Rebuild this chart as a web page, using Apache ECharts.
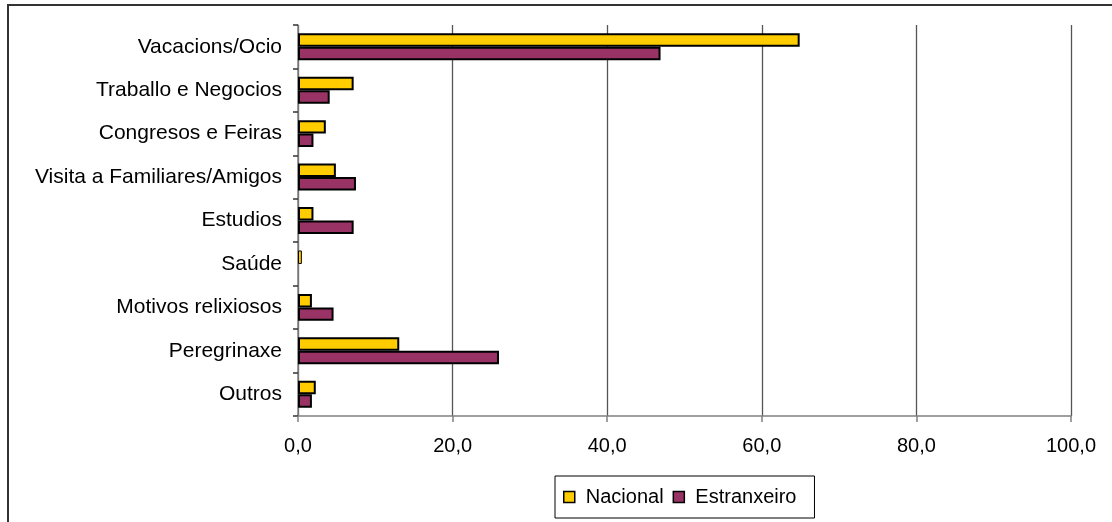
<!DOCTYPE html>
<html>
<head>
<meta charset="utf-8">
<script src="https://cdn.jsdelivr.net/npm/echarts@6/dist/echarts.min.js"></script>
<style>
  html, body { margin: 0; padding: 0; background: #ffffff; }
  #chart { width: 1112px; height: 522px; }
</style>
</head>
<body>
<div id="chart"></div>
<script>
// Motivo da viaxe (%)
var categories = [
  'Vacacions/Ocio',
  'Traballo e Negocios',
  'Congresos e Feiras',
  'Visita a Familiares/Amigos',
  'Estudios',
  'Saúde',
  'Motivos relixiosos',
  'Peregrinaxe',
  'Outros'
];
var nacional    = [64.9, 7.2, 3.6, 4.9, 2.0, 0.5, 1.8, 13.1, 2.3];
var estranxeiro = [46.9, 4.1, 2.0, 7.5, 7.2, 0.0, 4.6, 26.0, 1.8];
var seriesNames = ['Nacional', 'Estranxeiro'];
var xTickLabels = ['0,0', '20,0', '40,0', '60,0', '80,0', '100,0'];

var FONT = 'Liberation Sans, Arial, sans-serif';
var chart = echarts.init(document.getElementById('chart'), null, { renderer: 'canvas' });

// zero-length bars get no outline, very short ones a thinner one
function barData(values) {
  return values.map(function (v) {
    if (v === 0) return { value: v, itemStyle: { borderWidth: 0 } };
    if (v < 1) return { value: v, itemStyle: { borderWidth: 1 } };
    return v;
  });
}

chart.setOption({
  backgroundColor: '#ffffff',
  animation: false,
  textStyle: { fontFamily: FONT },
  graphic: [{
    type: 'rect',
    shape: { x: 8, y: 5, width: 1200, height: 600 },
    style: { fill: 'none', stroke: '#333333', lineWidth: 2 },
    silent: true,
    z: -1
  }],
  legend: {
    data: seriesNames,
    left: 555,
    top: 476,
    orient: 'horizontal',
    icon: 'rect',
    padding: [11, 18, 11, 8],
    itemWidth: 11,
    itemHeight: 11,
    itemGap: 9,
    borderColor: '#000000',
    borderWidth: 1,
    itemStyle: { borderColor: '#000000', borderWidth: 1.5 },
    textStyle: { fontFamily: FONT, fontSize: 20, color: '#000000', padding: [0, 0, 0, 6] }
  },
  grid: { left: 298, right: 41, top: 25, bottom: 106, containLabel: false },
  xAxis: {
    type: 'value',
    min: 0,
    max: 100,
    interval: 20,
    axisLine: { show: true, lineStyle: { color: '#808080', width: 1.5 } },
    axisTick: { show: true, length: 6, lineStyle: { color: '#808080', width: 1.5 } },
    splitLine: { show: true, lineStyle: { color: '#555555', width: 1.3 } },
    axisLabel: {
      margin: 20,
      fontFamily: FONT,
      fontSize: 20,
      color: '#000000',
      formatter: function (v) { return xTickLabels[Math.round(v / 20)]; }
    }
  },
  yAxis: {
    type: 'category',
    data: categories,
    inverse: true,
    axisLine: { show: true, lineStyle: { color: '#808080', width: 1.5 } },
    axisTick: { show: true, length: 5, alignWithLabel: false, lineStyle: { color: '#333333', width: 1.5 } },
    axisLabel: { margin: 16, fontFamily: FONT, fontSize: 21, color: '#000000' }
  },
  series: [
    {
      name: seriesNames[0],
      type: 'bar',
      data: barData(nacional),
      barGap: '0%',
      barCategoryGap: '38%',
      itemStyle: { color: '#FFCC00', borderColor: '#000000', borderWidth: 2 }
    },
    {
      name: seriesNames[1],
      type: 'bar',
      data: barData(estranxeiro),
      barGap: '0%',
      barCategoryGap: '38%',
      itemStyle: { color: '#993366', borderColor: '#000000', borderWidth: 2 }
    }
  ]
});
</script>
</body>
</html>
